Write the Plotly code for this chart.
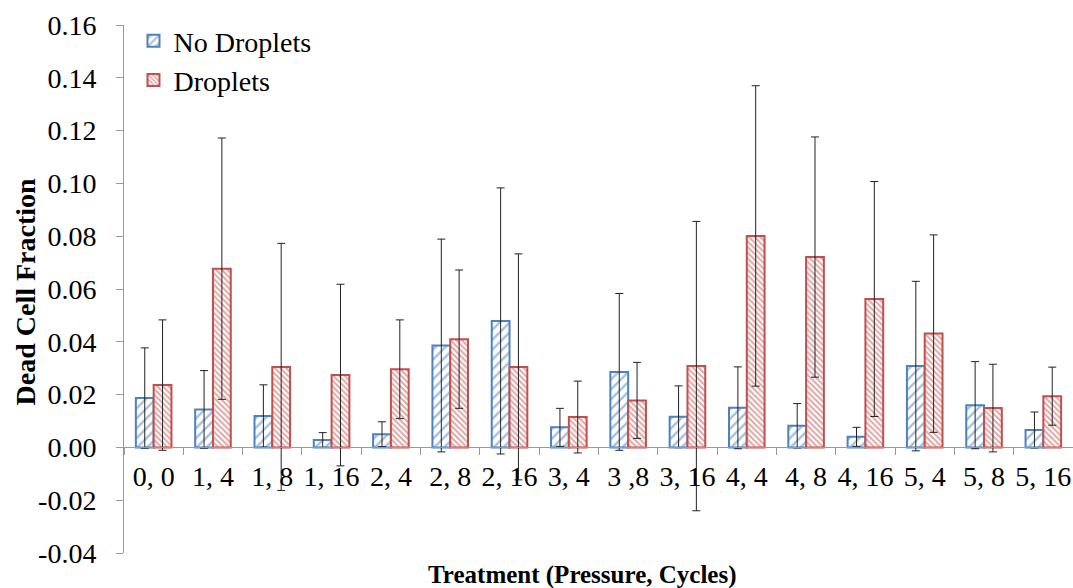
import plotly.graph_objects as go

categories = ["0, 0", "1, 4", "1, 8", "1, 16", "2, 4", "2, 8", "2, 16", "3, 4",
              "3 ,8", "3, 16", "4, 4", "4, 8", "4, 16", "5, 4", "5, 8", "5, 16"]

no_droplets = [0.0187, 0.0144, 0.0119, 0.0028, 0.0050, 0.0386, 0.0479, 0.0076,
               0.0286, 0.0116, 0.0150, 0.0082, 0.0040, 0.0308, 0.0160, 0.0066]
no_droplets_err = [0.0190, 0.0147, 0.0118, 0.0028, 0.0047, 0.0403, 0.0504, 0.0072,
                   0.0297, 0.0117, 0.0155, 0.0084, 0.0036, 0.0321, 0.0165, 0.0068]

droplets = [0.0236, 0.0677, 0.0305, 0.0274, 0.0296, 0.0410, 0.0305, 0.0115,
            0.0178, 0.0308, 0.0801, 0.0721, 0.0562, 0.0431, 0.0149, 0.0194]
droplets_err = [0.0247, 0.0495, 0.0468, 0.0344, 0.0187, 0.0262, 0.0428, 0.0136,
                0.0144, 0.0548, 0.0569, 0.0455, 0.0445, 0.0374, 0.0166, 0.0110]

y_ticks = [-0.04, -0.02, 0.0, 0.02, 0.04, 0.06, 0.08, 0.10, 0.12, 0.14, 0.16]
y_tick_text = ["-0.04", "-0.02", "0.00", "0.02", "0.04", "0.06", "0.08",
               "0.10", "0.12", "0.14", "0.16"]

BLUE = "#4F81BD"
RED = "#C0504D"
FONT = "Liberation Serif"

fig = go.Figure()
fig.add_trace(go.Bar(
    x=categories, y=no_droplets, name="No Droplets",
    marker=dict(color="white", line=dict(color=BLUE, width=2),
                pattern=dict(shape="/", fgcolor=BLUE, bgcolor="white", size=7, solidity=0.35)),
    error_y=dict(type="data", array=no_droplets_err, visible=True,
                 color="#222222", thickness=1, width=4),
))
fig.add_trace(go.Bar(
    x=categories, y=droplets, name="Droplets",
    marker=dict(color="white", line=dict(color=RED, width=2),
                pattern=dict(shape="\\", fgcolor=RED, bgcolor="white", size=4, solidity=0.5)),
    error_y=dict(type="data", array=droplets_err, visible=True,
                 color="#222222", thickness=1, width=4),
))

fig.update_layout(
    width=1073, height=588,
    margin=dict(l=124, r=0, t=25, b=35),
    paper_bgcolor="white", plot_bgcolor="white",
    barmode="group", bargap=0.4, bargroupgap=0,
    font=dict(family=FONT, size=28, color="black"),
    showlegend=True,
    legend=dict(x=0.01, y=1.017, xanchor="left", yanchor="top",
                bgcolor="rgba(0,0,0,0)", font=dict(size=28, family=FONT),
                itemwidth=30, tracegroupgap=0),
    xaxis=dict(
        anchor="free", position=0.2, showline=True, linecolor="#999999", linewidth=1,
        ticks="outside", tickson="boundaries", ticklen=7, tickcolor="#999999",
        tickangle=0, ticklabelstandoff=4, showgrid=False, zeroline=False,
        tickfont=dict(size=28, family=FONT),
    ),
    yaxis=dict(
        range=[-0.04, 0.16], tickvals=y_ticks, ticktext=y_tick_text,
        showline=True, linecolor="#999999", linewidth=1,
        ticks="outside", ticklen=7, tickcolor="#999999",
        ticklabelstandoff=14, showgrid=False, zeroline=False,
        tickfont=dict(size=28, family=FONT),
    ),
    annotations=[
        dict(text="<b>Treatment (Pressure, Cycles)</b>", xref="paper", yref="paper",
             x=0.483, y=-0.041, xanchor="center", yanchor="middle", showarrow=False,
             font=dict(size=25, family=FONT)),
        dict(text="<b>Dead Cell Fraction</b>", xref="paper", yref="paper",
             x=-0.104, y=0.494, xanchor="center", yanchor="middle", textangle=-90,
             showarrow=False, font=dict(size=28, family=FONT)),
    ],
)

fig.write_html("out.html", config={"displayModeBar": False},
               post_script="document.body.style.margin='0';document.body.style.overflow='hidden';")
